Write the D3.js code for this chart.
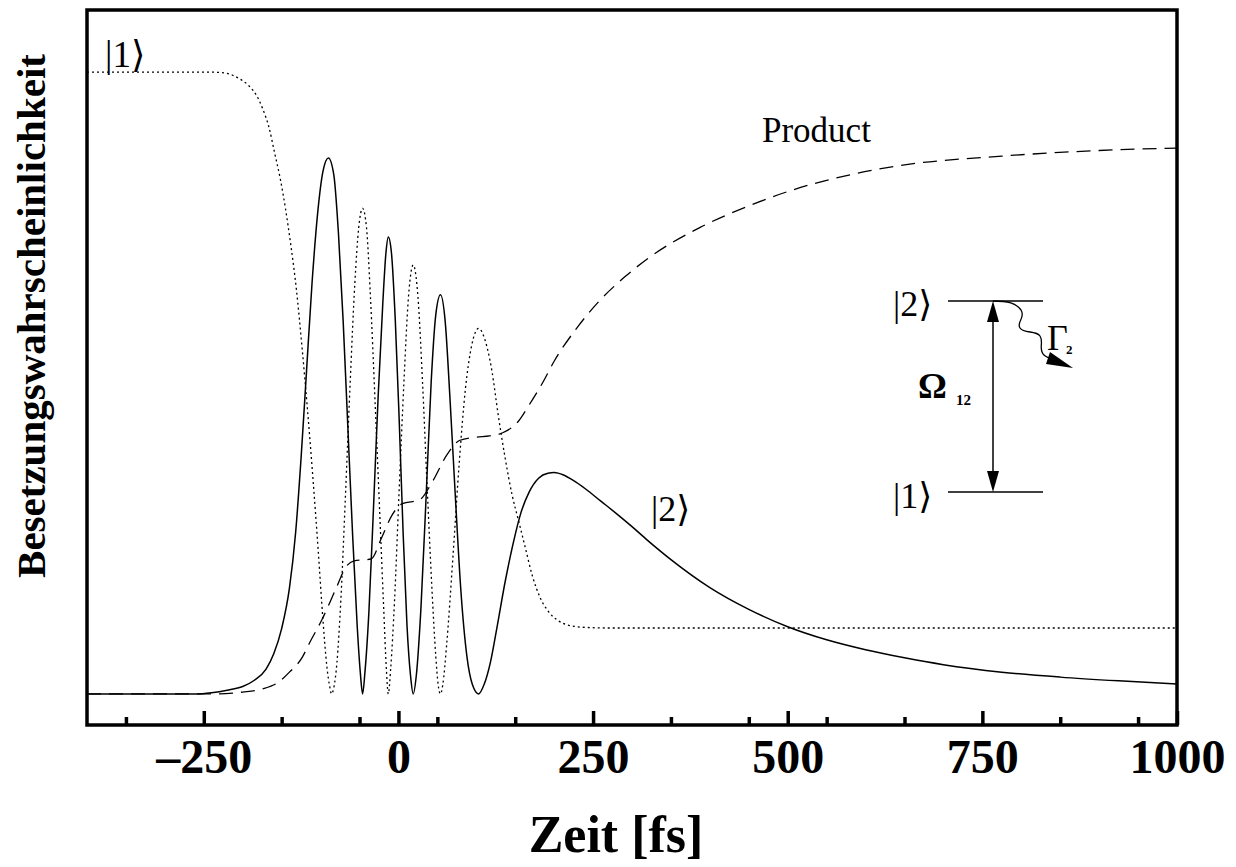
<!DOCTYPE html>
<html>
<head>
<meta charset="utf-8">
<script src="https://cdn.jsdelivr.net/npm/d3@7"></script>
<style>
  html, body { margin: 0; padding: 0; background: #fff; }
  svg { display: block; }
</style>
</head>
<body>
<svg id="chart" width="1236" height="867"></svg>
<script>
// ---------------- data ----------------
// |1> population (dotted)
const state1Time = [-400, -240, -220, -205, -192, -182, -174, -166, -159, -152, -145, -138, -131, -124, -117, -110, -103, -97, -92, -88, -86, -83, -79, -74, -68, -62, -56, -51, -46, -41, -36, -30, -24, -19, -15.5, -13, -10, -5, 1, 7, 13, 19, 25, 31, 37, 43, 48, 51, 54, 57, 62, 70, 78, 86, 94, 103, 111, 120, 128, 137, 146, 154, 163, 172, 182, 193, 205, 220, 240, 270, 1000];
const state1Pop  = [1, 1, 0.998, 0.99, 0.978, 0.962, 0.94, 0.91, 0.87, 0.83, 0.78, 0.72, 0.65, 0.56, 0.46, 0.35, 0.23, 0.12, 0.045, 0.01, 0, 0.01, 0.05, 0.15, 0.32, 0.5, 0.66, 0.75, 0.781, 0.75, 0.64, 0.47, 0.29, 0.14, 0.04, 0, 0.04, 0.15, 0.33, 0.5, 0.64, 0.69, 0.64, 0.5, 0.33, 0.17, 0.06, 0.015, 0, 0.015, 0.08, 0.22, 0.37, 0.49, 0.56, 0.588, 0.57, 0.52, 0.45, 0.38, 0.32, 0.28, 0.235, 0.19, 0.155, 0.132, 0.118, 0.11, 0.107, 0.106, 0.106];

// |2> population (solid)
const state2Time = [-400, -260, -240, -220, -200, -185, -170, -160, -150, -140, -132, -125, -118, -111, -104, -97, -90, -83, -77, -71, -65, -59, -53, -49, -46, -43, -38, -32, -26, -20, -16, -13, -9, -4, 1, 6, 11, 15.5, 19, 23, 29, 36, 42, 48, 54, 60, 66, 73, 80, 88, 95, 103, 110, 118, 127, 137, 147, 157, 168, 180, 192, 200, 212, 225, 240, 260, 280, 300, 320, 350, 400, 450, 500, 550, 600, 650, 700, 775, 850, 925, 1000];
const state2Pop  = [0, 0, 0.002, 0.006, 0.012, 0.022, 0.04, 0.065, 0.105, 0.17, 0.26, 0.38, 0.52, 0.66, 0.77, 0.84, 0.862, 0.835, 0.74, 0.6, 0.43, 0.26, 0.11, 0.035, 0, 0.035, 0.13, 0.3, 0.48, 0.63, 0.71, 0.735, 0.71, 0.6, 0.44, 0.26, 0.11, 0.03, 0, 0.03, 0.14, 0.33, 0.5, 0.61, 0.642, 0.6, 0.48, 0.32, 0.17, 0.06, 0.015, 0, 0.015, 0.05, 0.11, 0.18, 0.24, 0.29, 0.325, 0.347, 0.355, 0.356, 0.352, 0.343, 0.33, 0.31, 0.29, 0.269, 0.247, 0.216, 0.171, 0.136, 0.108, 0.087, 0.071, 0.058, 0.047, 0.035, 0.027, 0.021, 0.016];

// Product population (dashed)
const productTime = [-400, -230, -200, -175, -155, -140, -123, -115, -98, -80, -67, -57, -35, -22, -8, 5, 27, 44, 62, 79, 100, 117, 134, 153, 168, 185, 200, 230, 258, 290, 320, 387, 450, 500, 580, 645, 775, 900, 1000];
const productPop  = [0, 0, 0.003, 0.008, 0.018, 0.035, 0.06, 0.08, 0.12, 0.17, 0.205, 0.214, 0.217, 0.25, 0.288, 0.306, 0.312, 0.342, 0.384, 0.408, 0.413, 0.415, 0.42, 0.437, 0.465, 0.50, 0.535, 0.59, 0.632, 0.67, 0.70, 0.75, 0.785, 0.808, 0.835, 0.85, 0.865, 0.874, 0.878];

const majorTicks = [-250, 0, 250, 500, 750, 1000];
const minorTicks = [-350, -150, -50, 50, 150, 350, 450, 550, 650, 850, 950];
const xTitle = "Zeit [fs]";
const yTitle = "Besetzungswahrscheinlichkeit";

// ---------------- layout ----------------
const plot = { left: 87, right: 1177, top: 10, bottom: 725 };
const serif = "'Liberation Serif', 'Times New Roman', 'DejaVu Serif', serif";

const svg = d3.select("#chart");

const x = d3.scaleLinear().domain([-400, 1000]).range([plot.left, plot.right]);
const y = d3.scaleLinear().domain([-0.05, 1.1]).range([plot.bottom, plot.top]);

const line = d3.line()
  .x(d => x(d[0]))
  .y(d => y(d[1]))
  .curve(d3.curveMonotoneX);

const zipPts = (a, b) => a.map((t, i) => [t, b[i]]);

const g = svg.append("g");

// curves
g.append("path")
  .datum(zipPts(state1Time, state1Pop))
  .attr("d", line)
  .attr("fill", "none").attr("stroke", "#000")
  .attr("stroke-width", 1.3)
  .attr("stroke-dasharray", "2,3");

g.append("path")
  .datum(zipPts(productTime, productPop))
  .attr("d", line)
  .attr("fill", "none").attr("stroke", "#000")
  .attr("stroke-width", 1.3)
  .attr("stroke-dasharray", "14,8");

g.append("path")
  .datum(zipPts(state2Time, state2Pop))
  .attr("d", line)
  .attr("fill", "none").attr("stroke", "#000")
  .attr("stroke-width", 1.5);

// axes
const fmt = d => d < 0 ? "\u2013" + Math.abs(d) : String(d);
const majorAxis = d3.axisBottom(x).tickValues(majorTicks).tickSize(-14).tickPadding(14).tickFormat(fmt);
const minorAxis = d3.axisBottom(x).tickValues(minorTicks).tickSize(-8).tickFormat("");

const ax1 = svg.append("g").attr("transform", `translate(0,${plot.bottom})`).call(majorAxis);
const ax2 = svg.append("g").attr("transform", `translate(0,${plot.bottom})`).call(minorAxis);
[ax1, ax2].forEach(a => {
  a.select(".domain").remove();
  a.selectAll(".tick line").attr("stroke", "#000").attr("stroke-width", 3.5);
});
ax1.selectAll(".tick text")
  .attr("font-family", serif).attr("font-weight", "bold").attr("font-size", 48)
  .attr("fill", "#000");

// frame
svg.append("rect")
  .attr("x", plot.left).attr("y", plot.top)
  .attr("width", plot.right - plot.left).attr("height", plot.bottom - plot.top)
  .attr("fill", "none").attr("stroke", "#000").attr("stroke-width", 3.5);

// titles
svg.append("text")
  .attr("x", 616).attr("y", 852)
  .attr("text-anchor", "middle")
  .attr("font-family", serif).attr("font-weight", "bold").attr("font-size", 52)
  .text(xTitle);

svg.append("text")
  .attr("transform", `translate(45,${(50 + 582) / 2}) rotate(-90)`)
  .attr("text-anchor", "middle")
  .attr("font-family", serif).attr("font-weight", "bold").attr("font-size", 41)
  .text(yTitle);

// curve labels
const label = (tx, ty, str, size) => svg.append("text")
  .attr("x", tx).attr("y", ty)
  .attr("font-family", serif).attr("font-size", size)
  .text(str);

label(105, 67, "|1\u27E9", 37);
label(651, 521, "|2\u27E9", 36);
label(762, 142, "Product", 35);

// inset level diagram
const ins = svg.append("g");
const lvTop = 301, lvBot = 492, lvL = 948, lvR = 1043, arrX = 993;
ins.append("line").attr("x1", lvL).attr("x2", lvR).attr("y1", lvTop).attr("y2", lvTop)
  .attr("stroke", "#000").attr("stroke-width", 1.3);
ins.append("line").attr("x1", lvL).attr("x2", lvR).attr("y1", lvBot).attr("y2", lvBot)
  .attr("stroke", "#000").attr("stroke-width", 1.3);
ins.append("line").attr("x1", arrX).attr("x2", arrX).attr("y1", lvTop + 18).attr("y2", lvBot - 18)
  .attr("stroke", "#000").attr("stroke-width", 1.5);
ins.append("path").attr("d", `M${arrX},${lvTop} L${arrX - 6},${lvTop + 21} L${arrX + 6},${lvTop + 21} Z`);
ins.append("path").attr("d", `M${arrX},${lvBot} L${arrX - 6},${lvBot - 21} L${arrX + 6},${lvBot - 21} Z`);

// wavy decay arrow
ins.append("path")
  .attr("d", `M${arrX},${lvTop} C1008,301 1016,303 1021,310 C1026,318 1016,322 1020,328 C1024,334 1036,330 1040,336 C1044,342 1038,350 1044,355 C1046,357 1049,358 1052,359`)
  .attr("fill", "none").attr("stroke", "#000").attr("stroke-width", 1.3);
ins.append("path").attr("d", "M1073,368 L1050,352 L1046,364 Z");

label(893, 316, "|2\u27E9", 36);
label(893, 508, "|1\u27E9", 36);
svg.append("text").attr("x", 918).attr("y", 398)
  .attr("font-family", serif).attr("font-weight", "bold").attr("font-size", 36).text("\u03A9");
svg.append("text").attr("x", 956).attr("y", 405)
  .attr("font-family", serif).attr("font-weight", "bold").attr("font-size", 15).text("12");
label(1047, 350, "\u0393", 36);
svg.append("text").attr("x", 1066).attr("y", 354)
  .attr("font-family", serif).attr("font-weight", "bold").attr("font-size", 13).text("2");
</script>
</body>
</html>
